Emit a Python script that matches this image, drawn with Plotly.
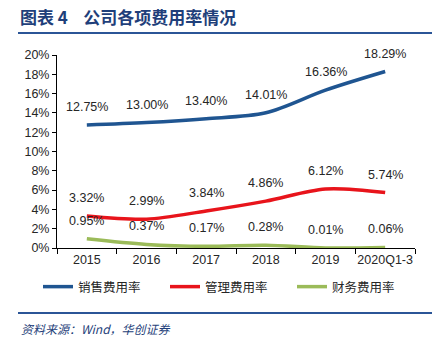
import plotly.graph_objects as go

categories = ["2015", "2016", "2017", "2018", "2019", "2020Q1-3"]
sales_rate = [12.75, 13.00, 13.40, 14.01, 16.36, 18.29]
admin_rate = [3.32, 2.99, 3.84, 4.86, 6.12, 5.74]
fin_rate = [0.95, 0.37, 0.17, 0.28, 0.01, 0.06]
series_names = ["销售费用率", "管理费用率", "财务费用率"]
colors = ["#1F5591", "#E8141B", "#9BBB59"]

W, H = 442, 338
L, R, T, B = 57, 27, 55, 90
pw, ph = W - L - R, H - T - B

def px_x(x):
    return (x - L) / pw

def px_y(y):
    return (H - B - y) / ph

fig = go.Figure()
annotations = []
for name, vals, col in zip(series_names, [sales_rate, admin_rate, fin_rate], colors):
    fig.add_trace(go.Scatter(
        x=categories, y=vals, name=name, mode="lines",
        line=dict(color=col, width=3.5, shape="spline", smoothing=0.9),
        hoverinfo="skip",
    ))
    for i, v in enumerate(vals):
        annotations.append(dict(
            x=i, y=v, xref="x", yref="y", text=f"{v:.2f}%", showarrow=False,
            yshift=18, font=dict(family="Liberation Sans, Arial", size=12.5, color="#262626"),
        ))

annotations.append(dict(
    x=px_x(18), y=px_y(17), xref="paper", yref="paper", xanchor="left", yanchor="middle",
    text="<b>图表&nbsp;4&nbsp;&nbsp;&nbsp;&nbsp;公司各项费用率情况</b>", showarrow=False,
    font=dict(family="Noto Sans CJK SC", size=17, color="#1F3F7A"),
))
annotations.append(dict(
    x=px_x(19), y=px_y(328), xref="paper", yref="paper", xanchor="left", yanchor="middle",
    text="<i>资料来源：Wind，华创证券</i>", showarrow=False,
    font=dict(family="Noto Sans CJK SC", size=12, color="#1F3F7A"),
))

shapes = [
    dict(type="line", xref="paper", yref="paper", x0=px_x(18), x1=px_x(432),
         y0=px_y(33), y1=px_y(33), line=dict(color="#2B5597", width=2)),
    dict(type="line", xref="paper", yref="paper", x0=px_x(18), x1=px_x(432),
         y0=px_y(313), y1=px_y(313), line=dict(color="#2B5597", width=2)),
]

fig.update_layout(
    width=W, height=H,
    margin=dict(l=L, r=R, t=T, b=B),
    paper_bgcolor="white", plot_bgcolor="white",
    showlegend=True,
    legend=dict(orientation="h", x=px_x(38), y=px_y(287), xanchor="left", yanchor="middle",
                font=dict(family="Noto Sans CJK SC", size=12.5, color="#262626"),
                entrywidth=82, entrywidthmode="pixels", tracegroupgap=0),
    annotations=annotations,
    shapes=shapes,
    xaxis=dict(type="category", range=[-0.5, 5.5], showline=True, linecolor="black", linewidth=1,
               ticks="outside", tickson="boundaries", ticklen=5, tickcolor="black", tickangle=0,
               showgrid=False, tickfont=dict(family="Liberation Sans, Arial", size=12.5, color="#262626")),
    yaxis=dict(range=[0, 20], dtick=2, ticksuffix="%", showline=True, linecolor="black",
               linewidth=1, ticks="outside", ticklen=4, tickcolor="black", showgrid=False,
               zeroline=False,
               tickfont=dict(family="Liberation Sans, Arial", size=12.5, color="#262626")),
)

fig.write_html("out.html")
